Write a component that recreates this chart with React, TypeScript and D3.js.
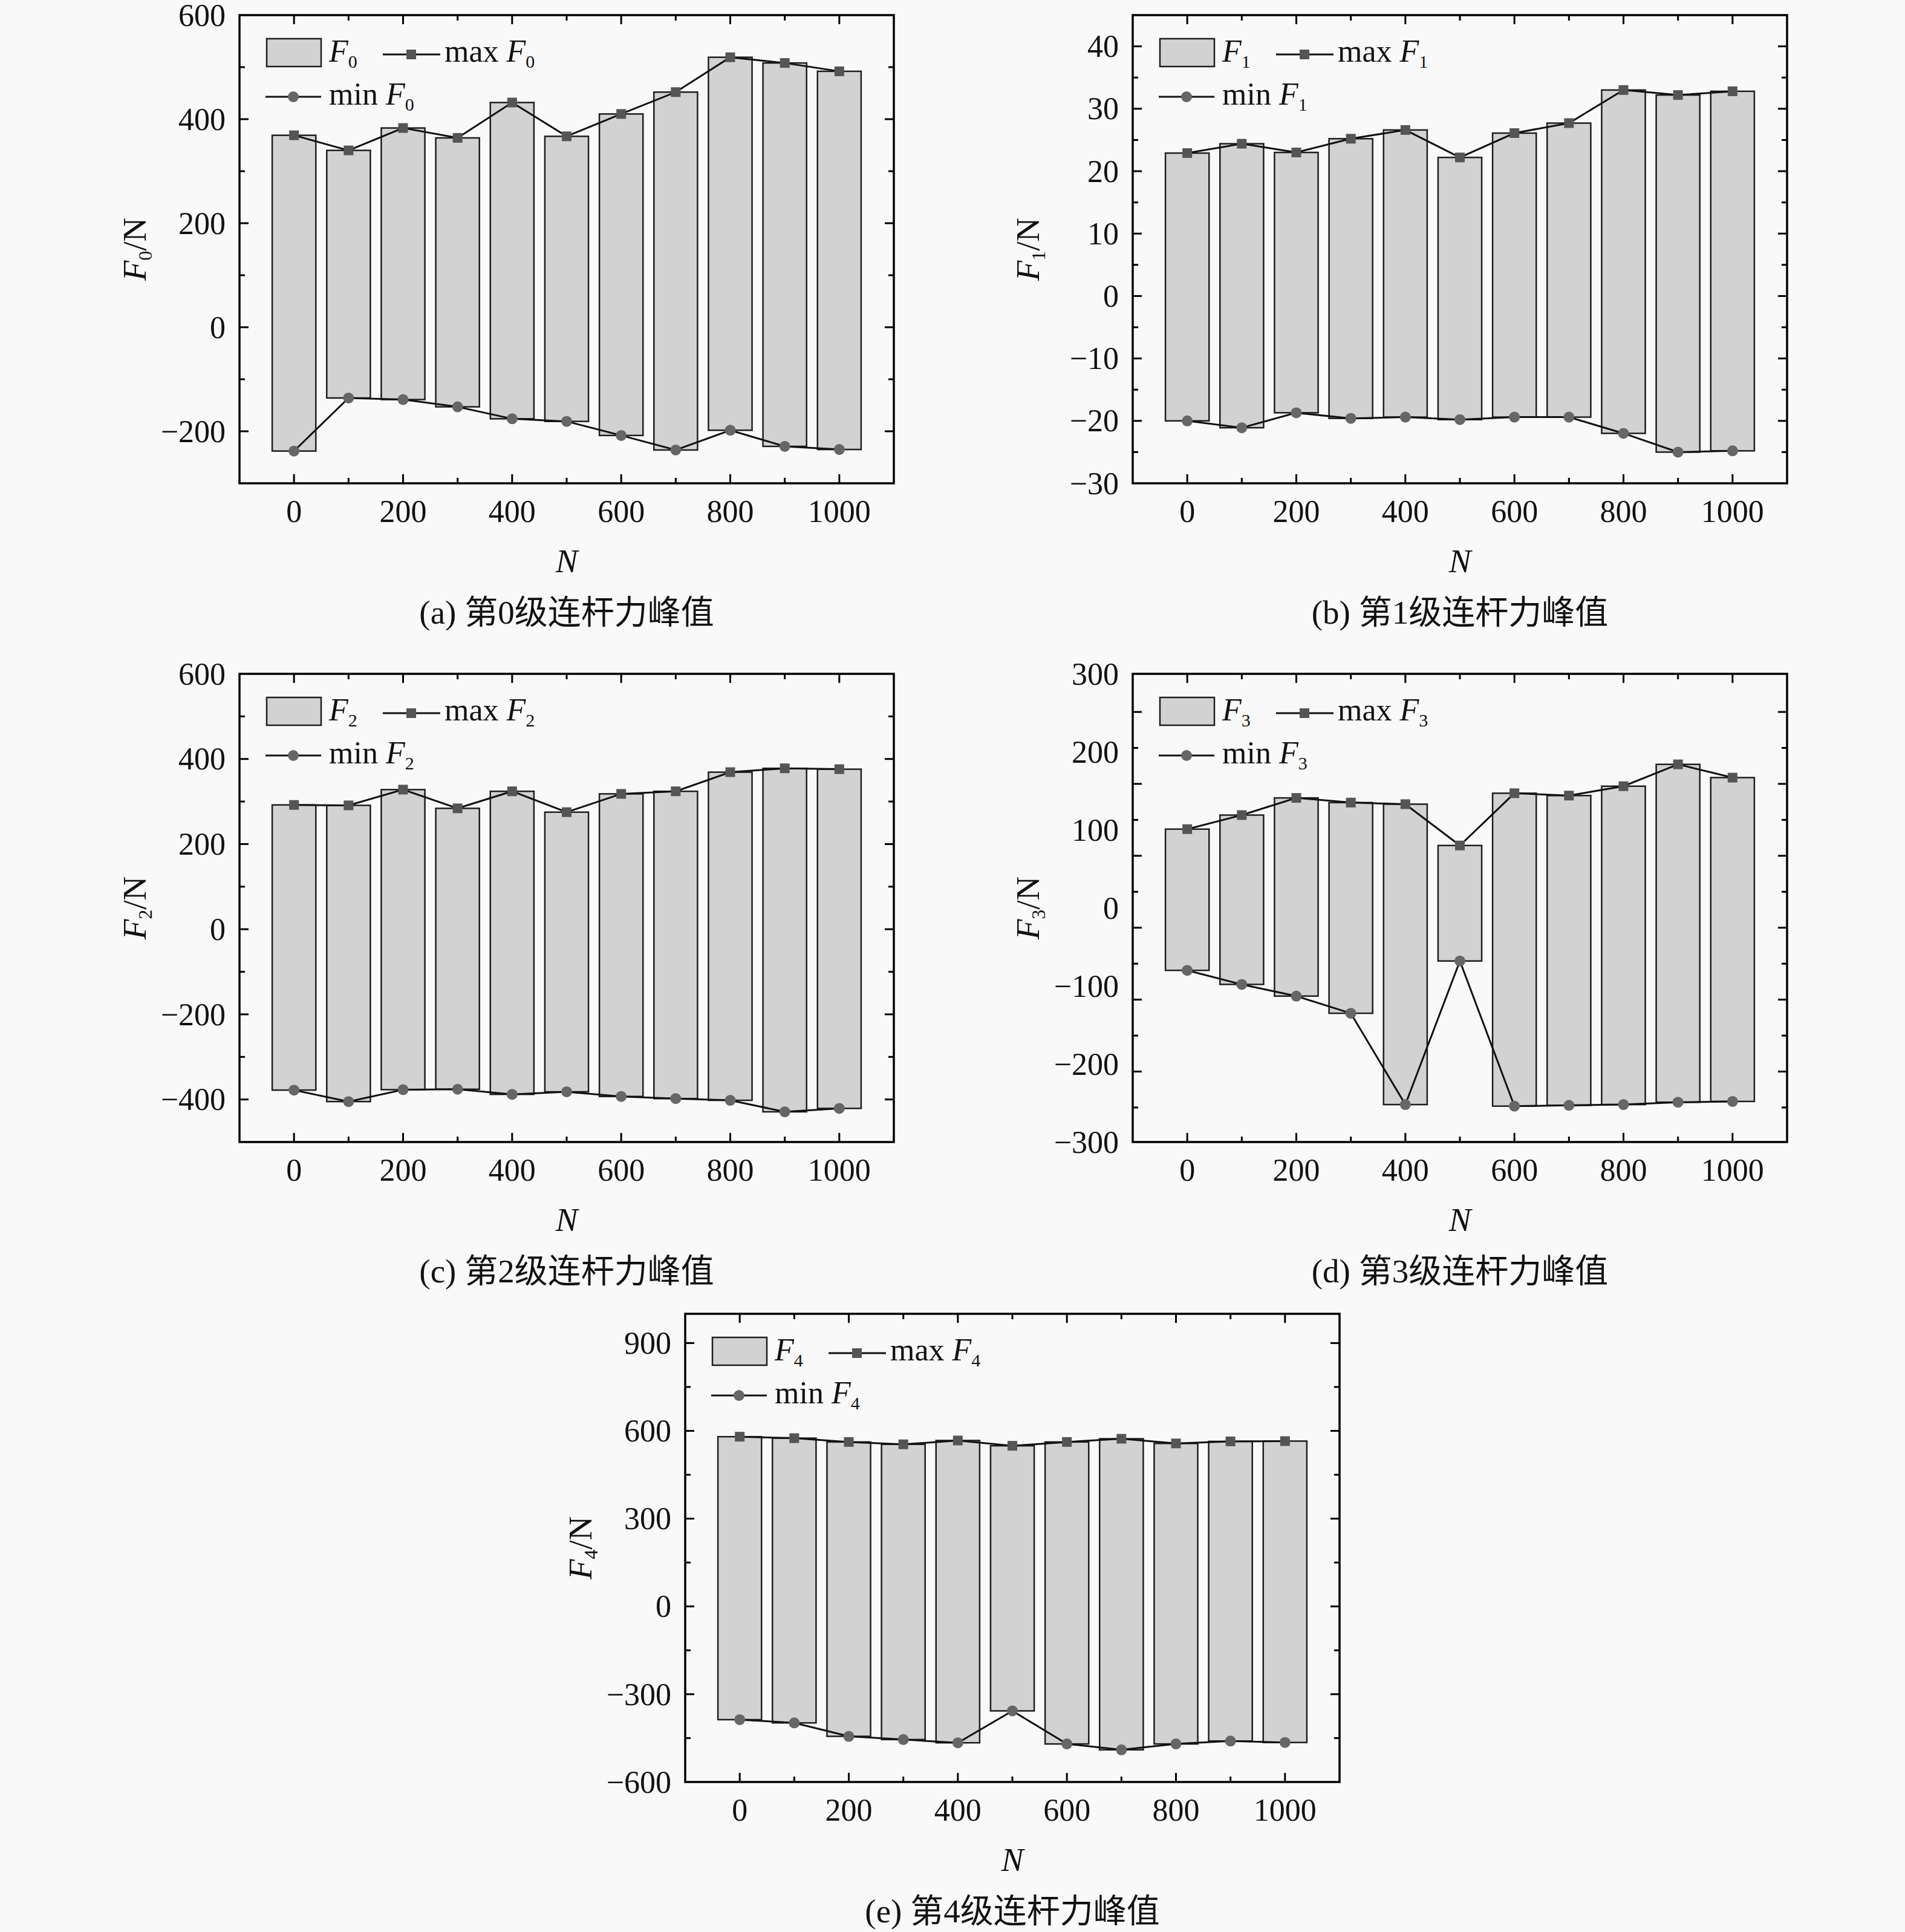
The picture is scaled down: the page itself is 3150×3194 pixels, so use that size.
import React from "react";
import * as d3 from "d3";

// ---------- data ----------
const N_VALUES = [0, 100, 200, 300, 400, 500, 600, 700, 800, 900, 1000];
const X_TICKS = [0, 100, 200, 300, 400, 500, 600, 700, 800, 900, 1000];
const X_TICK_LABELS = [0, 200, 400, 600, 800, 1000];

const F0_MAX = [369, 340, 383, 364, 432, 367, 410, 452, 519, 508, 492];
const F0_MIN = [-238, -136, -139, -153, -176, -181, -208, -236, -198, -229, -235];
const F1_MAX = [22.9, 24.4, 23.0, 25.2, 26.6, 22.2, 26.1, 27.7, 33.0, 32.2, 32.8];
const F1_MIN = [-20.0, -21.1, -18.7, -19.6, -19.4, -19.8, -19.4, -19.4, -22.0, -25.0, -24.8];
const F2_MAX = [292, 291, 328, 284, 324, 275, 318, 324, 369, 378, 376];
const F2_MIN = [-378, -405, -377, -376, -388, -382, -393, -398, -402, -429, -421];
const F3_MAX = [101, 119, 141, 135, 133, 80, 147, 144, 156, 184, 167];
const F3_MIN = [-80, -98, -113, -135, -252, -68, -254, -253, -252, -249, -248];
const F4_MAX = [580, 575, 562, 554, 567, 549, 562, 573, 557, 564, 565];
const F4_MIN = [-387, -398, -444, -455, -466, -357, -470, -490, -470, -460, -465];

const Y_LABELS_0 = [-200, 0, 200, 400, 600];
const Y_TICKS_0 = [-200, -100, 0, 100, 200, 300, 400, 500];
const Y_LABELS_1 = [-30, -20, -10, 0, 10, 20, 30, 40];
const Y_TICKS_1 = [-25, -20, -15, -10, -5, 0, 5, 10, 15, 20, 25, 30, 35, 40];
const Y_LABELS_2 = [-400, -200, 0, 200, 400, 600];
const Y_TICKS_2 = [-400, -300, -200, -100, 0, 100, 200, 300, 400, 500];
const Y_LABELS_3 = [-300, -200, -100, 0, 100, 200, 300];
const Y_TICKS_3 = [-275, -225, -175, -125, -75, -25, 25, 75, 125, 175, 225, 275];
const Y_LABELS_4 = [-600, -300, 0, 300, 600, 900];
const Y_TICKS_4 = [-450, -300, -150, 0, 150, 300, 450, 600, 750, 900];

const CAPTIONS = [
  "(a) 第0级连杆力峰值",
  "(b) 第1级连杆力峰值",
  "(c) 第2级连杆力峰值",
  "(d) 第3级连杆力峰值",
  "(e) 第4级连杆力峰值",
];

// ---------- layout ----------
const W = 3150;
const H = 3194;
const PW = 1082;
const PH = 774;

type PanelCfg = {
  idx: number;
  left: number;
  top: number;
  yDomain: [number, number];
  tickDomain?: [number, number];
  labels: number[];
  ticks: number[];
  isMajor: (v: number) => boolean;
  maxV: number[];
  minV: number[];
};

const PANELS: PanelCfg[] = [
  { idx: 0, left: 396, top: 25, yDomain: [-300, 600], labels: Y_LABELS_0, ticks: Y_TICKS_0, isMajor: (v) => v % 200 === 0, maxV: F0_MAX, minV: F0_MIN },
  { idx: 1, left: 1873, top: 25, yDomain: [-30, 45], labels: Y_LABELS_1, ticks: Y_TICKS_1, isMajor: (v) => v % 10 === 0, maxV: F1_MAX, minV: F1_MIN },
  { idx: 2, left: 396, top: 1114, yDomain: [-500, 600], labels: Y_LABELS_2, ticks: Y_TICKS_2, isMajor: (v) => v % 200 === 0, maxV: F2_MAX, minV: F2_MIN },
  { idx: 3, left: 1873, top: 1114, yDomain: [-300, 300], tickDomain: [-323, 328], labels: Y_LABELS_3, ticks: Y_TICKS_3, isMajor: (v) => Math.abs((v - 275) % 100) === 0, maxV: F3_MAX, minV: F3_MIN },
  { idx: 4, left: 1133, top: 2172, yDomain: [-600, 1000], labels: Y_LABELS_4, ticks: Y_TICKS_4, isMajor: (v) => v % 300 === 0, maxV: F4_MAX, minV: F4_MIN },
];

const SERIF = "'Liberation Serif', 'Times New Roman', 'DejaVu Serif', serif";
const CAP_FONT = "'Liberation Serif', 'Noto Sans CJK SC', serif";
const BG = "#f9f9f9";
const BAR_FILL = "#d2d2d2";
const SQ_FILL = "#555555";
const CIRC_FILL = "#666666";

const fmt = (v: number) => (v < 0 ? "\u2212" + Math.abs(v) : String(v));

function Panel({ p }: { p: PanelCfg }) {
  const { left, top, idx } = p;
  const x = d3.scaleLinear().domain([-100, 1100]).range([left, left + PW]);
  const y = d3.scaleLinear().domain(p.yDomain).range([top + PH, top]);
  const yt = p.tickDomain ? d3.scaleLinear().domain(p.tickDomain).range([top + PH, top]) : y;
  const half = (x(80) - x(0)) / 2;
  const line = d3
    .line<number>()
    .x((_, i) => x(N_VALUES[i]))
    .y((v) => y(v));
  const MAJ = 15;
  const MIN = 9;
  const right = left + PW;
  const bottom = top + PH;
  const sq = 16;

  return (
    <g>
      {/* bars */}
      {N_VALUES.map((n, i) => (
        <rect
          key={"b" + i}
          x={x(n) - half}
          y={y(p.maxV[i])}
          width={half * 2}
          height={y(p.minV[i]) - y(p.maxV[i])}
          fill={BAR_FILL}
          stroke="#1e1e1e"
          strokeWidth={2.5}
        />
      ))}
      {/* lines */}
      <path d={line(p.maxV) || ""} fill="none" stroke="#111" strokeWidth={3} />
      <path d={line(p.minV) || ""} fill="none" stroke="#111" strokeWidth={3} />
      {N_VALUES.map((n, i) => (
        <rect key={"s" + i} x={x(n) - sq / 2} y={y(p.maxV[i]) - sq / 2} width={sq} height={sq} fill={SQ_FILL} />
      ))}
      {N_VALUES.map((n, i) => (
        <circle key={"c" + i} cx={x(n)} cy={y(p.minV[i])} r={9} fill={CIRC_FILL} />
      ))}

      {/* ticks */}
      {X_TICKS.map((t) => {
        const len = t % 200 === 0 ? MAJ : MIN;
        return (
          <g key={"xt" + t}>
            <line x1={x(t)} x2={x(t)} y1={bottom} y2={bottom - len} stroke="#000" strokeWidth={3} />
            <line x1={x(t)} x2={x(t)} y1={top} y2={top + len} stroke="#000" strokeWidth={3} />
          </g>
        );
      })}
      {p.ticks.map((t) => {
        const len = p.isMajor(t) ? MAJ : MIN;
        return (
          <g key={"yt" + t}>
            <line x1={left} x2={left + len} y1={yt(t)} y2={yt(t)} stroke="#000" strokeWidth={3} />
            <line x1={right} x2={right - len} y1={yt(t)} y2={yt(t)} stroke="#000" strokeWidth={3} />
          </g>
        );
      })}
      {/* frame */}
      <rect x={left} y={top} width={PW} height={PH} fill="none" stroke="#000" strokeWidth={3.5} />

      {/* tick labels */}
      {X_TICK_LABELS.map((t) => (
        <text key={"xl" + t} x={x(t)} y={bottom + 64} textAnchor="middle" fontFamily={SERIF} fontSize={52} fill="#111">
          {fmt(t)}
        </text>
      ))}
      {p.labels.map((t) => (
        <text key={"yl" + t} x={left - 23} y={y(t)} dy="0.34em" textAnchor="end" fontFamily={SERIF} fontSize={52} fill="#111">
          {fmt(t)}
        </text>
      ))}

      {/* axis titles */}
      <text x={left + PW / 2} y={bottom + 147} textAnchor="middle" fontFamily={SERIF} fontSize={55} fontStyle="italic" fill="#111">
        N
      </text>
      <text
        transform={`translate(${left - 155},${top + PH / 2}) rotate(-90)`}
        textAnchor="middle"
        fontFamily={SERIF}
        fontSize={55}
        fill="#111"
      >
        <tspan fontStyle="italic">F</tspan>
        <tspan fontSize={32} dy={10}>{idx}</tspan>
        <tspan dy={-10}>/N</tspan>
      </text>

      {/* legend */}
      <rect x={left + 45} y={top + 39} width={90} height={46} fill={BAR_FILL} stroke="#1e1e1e" strokeWidth={2.5} />
      <text x={left + 148} y={top + 77} fontFamily={SERIF} fontSize={52} fill="#111">
        <tspan fontStyle="italic">F</tspan>
        <tspan fontSize={30} dy={10}>{idx}</tspan>
      </text>
      <line x1={left + 237} x2={left + 332} y1={top + 65} y2={top + 65} stroke="#111" strokeWidth={3} />
      <rect x={left + 284 - sq / 2} y={top + 65 - sq / 2} width={sq} height={sq} fill={SQ_FILL} />
      <text x={left + 339} y={top + 77} fontFamily={SERIF} fontSize={52} fill="#111">
        <tspan>max </tspan>
        <tspan fontStyle="italic">F</tspan>
        <tspan fontSize={30} dy={10}>{idx}</tspan>
      </text>
      <line x1={left + 43} x2={left + 135} y1={top + 135} y2={top + 135} stroke="#111" strokeWidth={3} />
      <circle cx={left + 89} cy={top + 135} r={9} fill={CIRC_FILL} />
      <text x={left + 148} y={top + 148} fontFamily={SERIF} fontSize={52} fill="#111">
        <tspan>min </tspan>
        <tspan fontStyle="italic">F</tspan>
        <tspan fontSize={30} dy={10}>{idx}</tspan>
      </text>

      {/* caption */}
      <text x={left + PW / 2} y={bottom + 232} textAnchor="middle" fontFamily={CAP_FONT} fontSize={55} fill="#111">
        {CAPTIONS[idx]}
      </text>
    </g>
  );
}

export default function App() {
  return (
    <svg
      width={W}
      height={H}
      viewBox={`0 0 ${W} ${H}`}
      style={{ position: "absolute", left: 0, top: 0, display: "block" }}
    >
      <rect x={0} y={0} width={W} height={H} fill={BG} />
      {PANELS.map((p) => (
        <Panel key={p.idx} p={p} />
      ))}
    </svg>
  );
}
